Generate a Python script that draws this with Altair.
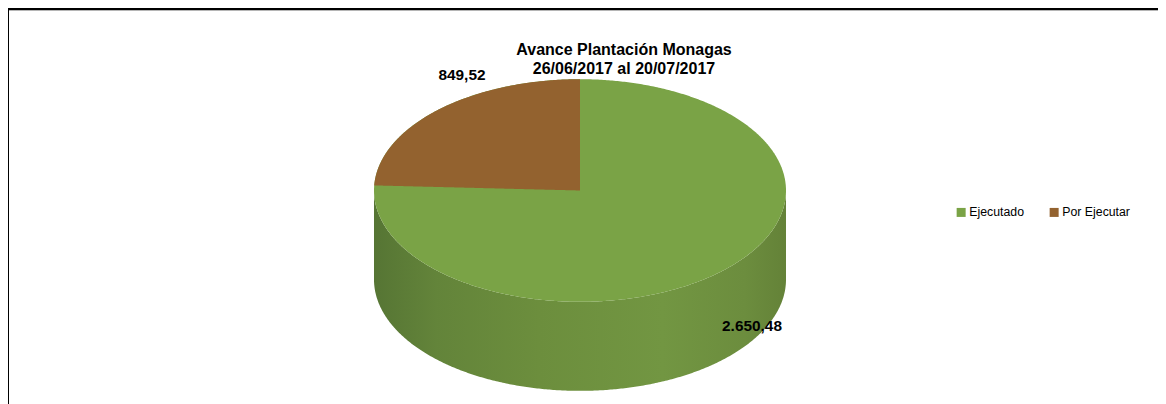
import numpy as np
import pandas as pd
import altair as alt

TITLE_LINES = ["Avance Plantación Monagas", "26/06/2017 al 20/07/2017"]
SLICES = ["Ejecutado", "Por Ejecutar"]
VALUES = [2650.48, 849.52]
COLORS = ["#7AA346", "#93622F"]
DEPTH = 0.80  # pie thickness, in the unit-ellipse coordinates of the y scale

FONT = "Liberation Sans"


def es_number(v):
    return f"{v:,.2f}".replace(",", "_").replace(".", ",").replace("_", ".")


x_scale = alt.Scale(domain=[-1, 1], range=[366, 778], nice=False, zero=False)
y_scale = alt.Scale(domain=[1, -1], range=[71.2, 293.8], nice=False, zero=False)
X = alt.X("x:Q", scale=x_scale, axis=None)
Y = alt.Y("y:Q", scale=y_scale, axis=None)
COLOR = alt.Color(
    "slice:N",
    scale=alt.Scale(domain=SLICES, range=COLORS),
    sort=None,
    legend=alt.Legend(
        title=None,
        orient="none",
        legendX=947,
        legendY=198,
        direction="horizontal",
        symbolType="square",
        symbolSize=81,
        symbolStrokeWidth=0,
        symbolOpacity=1,
        labelFont=FONT,
        labelFontSize=12.3,
        labelColor="#000000",
        labelOffset=2,
        columnPadding=24,
    ),
)

total = sum(VALUES)
theta = 2 * np.pi * VALUES[1] / total

# Side wall: the front half of the ellipse, pushed down by the thickness.
t = np.radians(np.linspace(-90, 90, 361))
side = pd.DataFrame({"x": np.sin(t), "y": -np.cos(t)})
side["y2"] = side["y"] - DEPTH

# Whole lid in the first slice's colour.
lid = pd.DataFrame({"x": np.sin(t), "y": np.cos(t), "y2": -np.cos(t), "slice": SLICES[0]})

# Second slice, running back from twelve o'clock.
tb = np.linspace(-theta, 0, 181)
sector = pd.DataFrame({"x": np.sin(tb), "y": np.cos(tb), "slice": SLICES[1]})
sector["y2"] = sector["x"] * np.cos(theta) / np.sin(-theta)

wall = (
    alt.Chart(side)
    .mark_area(
        color=alt.Gradient(
            gradient="linear",
            x1=0, x2=1, y1=0, y2=0,
            stops=[
                alt.GradientStop(offset=0.0, color="#567534"),
                alt.GradientStop(offset=0.15, color="#63843A"),
                alt.GradientStop(offset=0.4, color="#6C8E3D"),
                alt.GradientStop(offset=0.7, color="#729642"),
                alt.GradientStop(offset=0.9, color="#6C8D3E"),
                alt.GradientStop(offset=1.0, color="#648238"),
            ],
        )
    )
    .encode(x=X, y=Y, y2="y2:Q")
)
top = alt.Chart(lid).mark_area().encode(x=X, y=Y, y2="y2:Q", color=COLOR)
brown = alt.Chart(sector).mark_area().encode(x=X, y=Y, y2="y2:Q", color=COLOR)


def label(value, px, py):
    return (
        alt.Chart(pd.DataFrame({"x": [px], "y": [py], "t": [es_number(value)]}))
        .mark_text(font=FONT, fontSize=15.4, fontWeight="bold", color="#000000", baseline="alphabetic", align="center")
        .encode(x=X, y=Y, text="t:N")
    )


label_a = label(VALUES[0], 0.835, -1.26)
label_b = label(VALUES[1], -0.573, 0.99)

frame_top = alt.Chart(pd.DataFrame({"a": [0]})).mark_rule(color="#000000", strokeWidth=2).encode(
    x=alt.value(0), x2=alt.value(1150), y=alt.value(1)
)
frame_shadow = alt.Chart(pd.DataFrame({"a": [0]})).mark_rule(color="#B5B5B5", strokeWidth=1).encode(
    x=alt.value(0), x2=alt.value(1150), y=alt.value(2.5)
)
frame_left = alt.Chart(pd.DataFrame({"a": [0]})).mark_rule(color="#000000", strokeWidth=1).encode(
    x=alt.value(0.5), y=alt.value(0), y2=alt.value(396)
)

chart = (
    alt.layer(wall, top, brown, label_a, label_b, frame_shadow, frame_top, frame_left)
    .properties(
        width=1150,
        height=396,
        padding=0,
        autosize=alt.AutoSizeParams(type="none"),
        background="#FFFFFF",
        title=alt.TitleParams(
            text=TITLE_LINES,
            font=FONT,
            fontSize=16,
            fontWeight="bold",
            color="#000000",
            anchor="middle",
            align="center",
            lineHeight=19,
            dx=41,
            dy=69,
            offset=0,
        ),
    )
    .configure_view(stroke=None)
)

chart.save("out.html", embed_options={"renderer": "svg", "actions": False})
